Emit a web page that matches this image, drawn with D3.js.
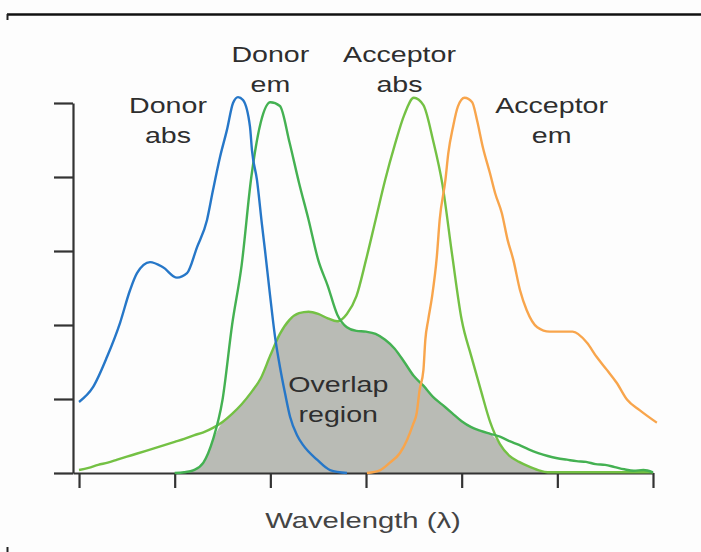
<!DOCTYPE html>
<html>
<head>
<meta charset="utf-8">
<script src="https://cdn.jsdelivr.net/npm/d3@7"></script>
<style>
  body { margin: 0; background: #fdfdfd; }
  svg { display: block; }
  text { font-family: "Liberation Sans", Arial, sans-serif; }
</style>
</head>
<body>
<svg width="701" height="552"></svg>
<script>
// ---- data (wavelength in arbitrary units, 0..60; intensity 0..5) ----
var donorAbsX = [0, 1.46, 2.93, 4.29, 5.33, 6.06, 7.42, 8.78, 10.24, 11.29, 12.33, 13.38, 14.0, 14.74, 15.47, 16.1, 16.62, 17.14, 17.87, 18.08, 18.6, 19.13, 19.44, 19.96, 20.49, 21.01, 21.53, 22.06, 22.79, 23.41, 24.88, 26.24, 28.01];
var donorAbsY = [0.96, 1.16, 1.57, 2.03, 2.47, 2.70, 2.85, 2.78, 2.64, 2.70, 3.05, 3.42, 3.82, 4.27, 4.64, 5.0, 5.08, 5.04, 4.68, 4.36, 3.96, 3.35, 3.01, 2.41, 1.84, 1.43, 1.08, 0.76, 0.51, 0.38, 0.18, 0.04, 0];

var accEmX = [30.1, 31.5, 32.5, 33.55, 34.3, 34.9, 35.3, 35.6, 36.0, 36.2, 36.5, 36.9, 37.4, 37.7, 38.3, 38.6, 39.1, 39.6, 40.3, 41.1, 41.6, 42.2, 42.96, 43.5, 44.2, 44.8, 45.4, 46.1, 46.8, 47.9, 49.2, 50.6, 51.6, 53.1, 54.1, 55.2, 56.2, 57.3, 58.6, 60.4];
var accEmY = [0, 0.04, 0.14, 0.27, 0.45, 0.65, 0.81, 1.12, 1.39, 1.80, 2.07, 2.38, 2.92, 3.42, 3.96, 4.32, 4.68, 4.95, 5.07, 5.01, 4.77, 4.41, 4.05, 3.78, 3.51, 3.15, 2.88, 2.47, 2.20, 1.97, 1.91, 1.91, 1.91, 1.76, 1.57, 1.39, 1.22, 0.99, 0.85, 0.68];

// donor emission and acceptor absorption share one grid (needed for the overlap)
var gridX = [0, 1, 2, 3, 4, 5, 6, 7, 8, 9, 10, 11, 12, 13, 14, 15, 16, 17, 18, 19, 20,
  21, 22, 23, 24, 25, 26, 27, 28, 29, 30, 31, 32, 33, 34, 35, 36, 37, 38, 39, 40,
  41, 42, 43, 44, 45, 46, 47, 48, 49, 50, 51, 52, 53, 54, 55, 56, 57, 58, 59, 60];
var donorEmY = [null, null, null, null, null, null, null, null, null, null, 0,
  0.01, 0.04, 0.14, 0.45, 0.99, 2.0, 2.81, 3.99, 4.74, 5.01,
  4.96, 4.47, 3.92, 3.42, 2.88, 2.53, 2.14, 1.97, 1.92, 1.91,
  1.88, 1.80, 1.68, 1.50, 1.31, 1.18, 1.03, 0.92, 0.81, 0.70,
  0.62, 0.57, 0.53, 0.49, 0.43, 0.38, 0.32, 0.27, 0.23, 0.20,
  0.18, 0.16, 0.15, 0.12, 0.11, 0.08, 0.05, 0.03, 0.04, 0.01];
var accAbsY = [0.04, 0.07, 0.11, 0.14, 0.18, 0.22, 0.26, 0.30, 0.34, 0.38, 0.42,
  0.46, 0.51, 0.55, 0.61, 0.69, 0.80, 0.93, 1.09, 1.28, 1.59,
  1.88, 2.07, 2.16, 2.18, 2.15, 2.09, 2.05, 2.15, 2.39, 2.88,
  3.42, 3.96, 4.43, 4.84, 5.07, 4.97, 4.50, 3.89, 2.95, 2.07,
  1.58, 1.12, 0.68, 0.39, 0.23, 0.15, 0.09, 0.04, 0.01, 0.01,
  0.01, 0.01, 0.01, 0.01, 0.01, 0.01, 0.01, 0.01, 0.01, 0.01];

var xTicks = [0, 10, 20, 30, 40, 50, 60];
var yTicks = [0, 1, 2, 3, 4, 5];

// curve labels: [text lines, centre x (data), top baseline (data y)]
var labels = [
  { lines: ['Donor', 'abs'], x: 9.3, y: 4.87 },
  { lines: ['Donor', 'em'], x: 20.0, y: 5.55 },
  { lines: ['Acceptor', 'abs'], x: 33.5, y: 5.55 },
  { lines: ['Acceptor', 'em'], x: 49.4, y: 4.87 },
  { lines: ['Overlap', 'region'], x: 27.1, y: 1.09 }
];
var xTitle = 'Wavelength (\u03bb)';

var colors = {
  donorAbs: '#2677c8',
  donorEm: '#44b152',
  accAbs: '#74c144',
  accEm: '#f8a54c',
  overlap: '#b9bbb5'
};

var svg = d3.select('svg');

var x = d3.scaleLinear().domain([-0.63, 60]).range([73, 653]);
var y = d3.scaleLinear().domain([0, 5]).range([473, 103]);

// frame bits around the picture
svg.append('line')
  .attr('x1', 7).attr('x2', 701).attr('y1', 14.5).attr('y2', 14.5)
  .attr('stroke', '#111').attr('stroke-width', 2.5);
svg.append('line')
  .attr('x1', 7.5).attr('x2', 7.5).attr('y1', 14).attr('y2', 20)
  .attr('stroke', '#222').attr('stroke-width', 2);
svg.append('line')
  .attr('x1', 7.5).attr('x2', 7.5).attr('y1', 547).attr('y2', 552)
  .attr('stroke', '#222').attr('stroke-width', 2);

// overlap region = under the lower of donor em / acceptor abs
var overlap = gridX.map(function (g, i) {
  var d = donorEmY[i] == null ? 0 : donorEmY[i];
  return [g, Math.min(d, accAbsY[i])];
});
svg.append('path')
  .datum(overlap)
  .attr('fill', colors.overlap)
  .attr('d', d3.area()
    .curve(d3.curveMonotoneX)
    .x(function (d) { return x(d[0]); })
    .y0(y(0))
    .y1(function (d) { return y(d[1]); }));

// axes
svg.append('g')
  .attr('transform', 'translate(73,0)')
  .call(d3.axisLeft(y).tickValues(yTicks).tickSize(19).tickSizeOuter(0).tickFormat(''));
svg.append('g')
  .attr('transform', 'translate(0,473)')
  .call(d3.axisBottom(x).tickValues(xTicks).tickSize(15).tickSizeOuter(0).tickFormat(''));
svg.selectAll('.domain, .tick line')
  .attr('stroke', '#333')
  .attr('stroke-width', 2.2);

// spectra
var line = d3.line()
  .curve(d3.curveMonotoneX)
  .defined(function (d) { return d[1] != null; })
  .x(function (d) { return x(d[0]); })
  .y(function (d) { return y(d[1]); });

function drawCurve(xs, ys, color) {
  svg.append('path')
    .datum(xs.map(function (v, i) { return [v, ys[i]]; }))
    .attr('fill', 'none')
    .attr('stroke', color)
    .attr('stroke-width', 2.4)
    .attr('stroke-linejoin', 'round')
    .attr('d', line);
}
drawCurve(gridX, accAbsY, colors.accAbs);
drawCurve(gridX, donorEmY, colors.donorEm);
drawCurve(accEmX, accEmY, colors.accEm);
drawCurve(donorAbsX, donorAbsY, colors.donorAbs);

// labels (the source picture is stretched sideways, so stretch the text too)
labels.forEach(function (l) {
  l.lines.forEach(function (t, i) {
    svg.append('text')
      .attr('transform', 'translate(' + x(l.x) + ',' + (y(l.y) + i * 30) + ') scale(1.3,1)')
      .attr('text-anchor', 'middle')
      .attr('font-size', 22)
      .attr('fill', '#2e2e2e')
      .text(t);
  });
});

svg.append('text')
  .attr('transform', 'translate(363,528) scale(1.33,1)')
  .attr('text-anchor', 'middle')
  .attr('font-size', 22)
  .attr('fill', '#444')
  .text(xTitle);
</script>
</body>
</html>
